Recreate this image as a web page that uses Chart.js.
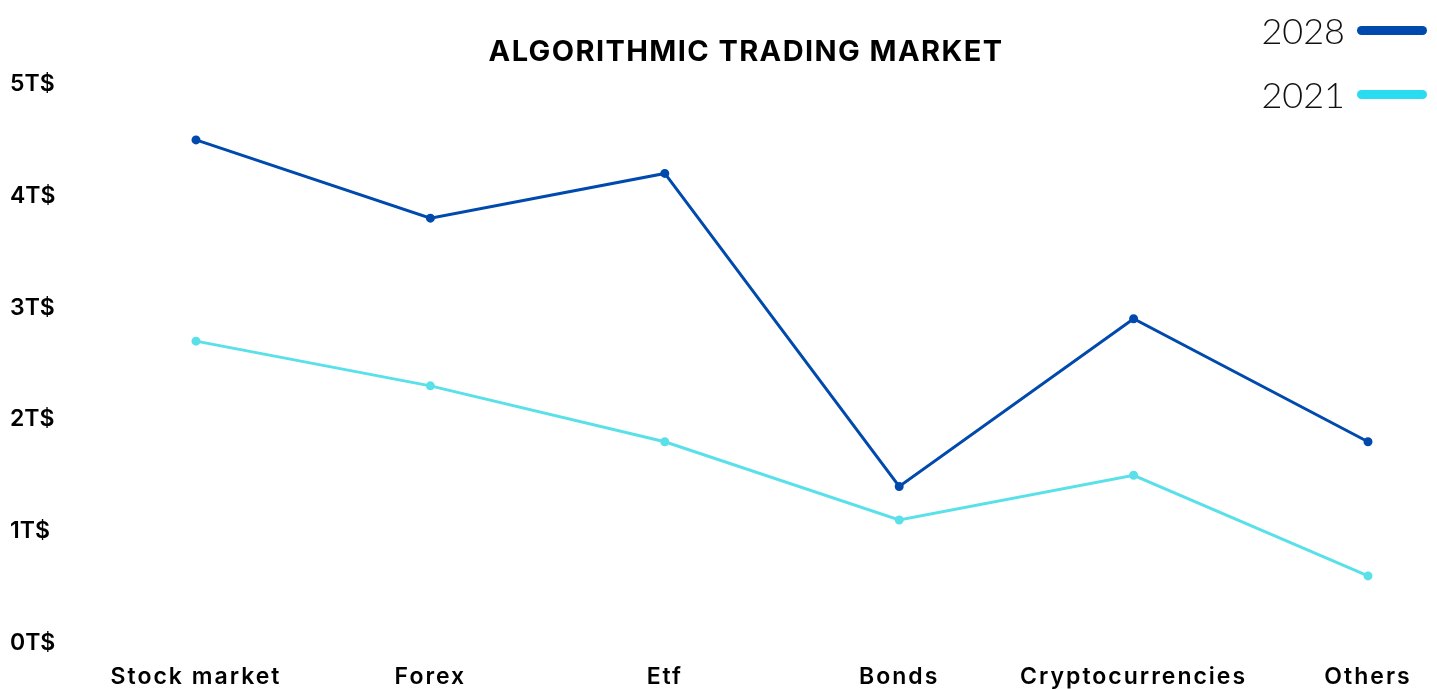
<!DOCTYPE html>
<html>
<head>
<meta charset="utf-8">
<script src="https://cdn.jsdelivr.net/npm/chart.js@4.4.1/dist/chart.umd.min.js"></script>
<style>
  html, body { margin:0; padding:0; background:#fff; }
  .wrap { position:relative; width:1437px; height:689px; overflow:hidden; }
  .title { position:absolute; left:746px; top:50px; transform:translate(-50%,-50%);
           font:700 29px Inter, sans-serif; color:#000; white-space:nowrap; letter-spacing:1.4px; }
  .leg-row { position:absolute; right:10px; display:flex; align-items:center; height:40px; transform:translateY(-50%); }
  .leg-row span.txt { font:300 36px Lato, sans-serif; color:#111; margin-right:12px; }
  .leg-row span.bar { display:inline-block; width:70px; height:9px; border-radius:5px; }
  canvas { position:absolute; left:0; top:0; }
</style>
</head>
<body>
<div class="wrap">
  <canvas id="chart" width="1437" height="689"></canvas>
  <div class="title" id="title"></div>
  <div id="legend"></div>
</div>
<script>
// ---- dados ----
const TITLE = 'ALGORITHMIC TRADING MARKET';
const categorias = ['Stock market', 'Forex', 'Etf', 'Bonds', 'Cryptocurrencies', 'Others'];
const serie2028 = [4.5, 3.8, 4.2, 1.4, 2.9, 1.8];
const serie2021 = [2.7, 2.3, 1.8, 1.1, 1.5, 0.6];
const yTicks = [0, 1, 2, 3, 4, 5];

const series = [
  { label:'2028', data: serie2028, line:'#0049ad', legend:'#0049ad' },
  { label:'2021', data: serie2021, line:'#5ae0e8', legend:'#2adcf2' }
];

document.getElementById('title').textContent = TITLE;

// legenda em HTML (texto + barrinha à direita)
const leg = document.getElementById('legend');
series.forEach((s, i) => {
  const row = document.createElement('div');
  row.className = 'leg-row';
  row.style.top = (30 + i * 64) + 'px';
  row.innerHTML = `<span class="txt">${s.label}</span><span class="bar" style="background:${s.legend}"></span>`;
  leg.appendChild(row);
});

const tickFont = { family:'Inter, sans-serif', size:23, weight:'600' };

// espaçamento entre letras só nos rótulos do eixo X (ticks do Y ficam em z:1, depois das linhas)
const letterSpacingX = {
  id:'letterSpacingX',
  beforeDraw(chart){ chart.ctx.letterSpacing = '2px'; },
  beforeDatasetsDraw(chart){ chart.ctx.letterSpacing = '0px'; }
};

new Chart(document.getElementById('chart'), {
  type:'line',
  data:{
    labels: categorias,
    datasets: series.map(s => ({
      label: s.label, data: s.data,
      borderColor: s.line, backgroundColor: s.line,
      borderWidth: 3, pointRadius: 3, pointHoverRadius: 4,
      tension: 0, fill: false
    }))
  },
  plugins:[letterSpacingX],
  options:{
    responsive:false, animation:false,
    layout:{ padding:{ left:10, right:69, top:84, bottom:0 } },
    plugins:{ legend:{ display:false }, title:{ display:false }, tooltip:{ enabled:false } },
    scales:{
      x:{
        offset:false,
        grid:{ display:false, drawTicks:false }, border:{ display:false },
        ticks:{ color:'#000', font:tickFont, padding:20, maxRotation:0, autoSkip:false },
        afterFit: sc => { sc.height = 46; }
      },
      y:{
        min:0, max:5,
        grid:{ display:false, drawTicks:false }, border:{ display:false },
        afterBuildTicks: sc => { sc.ticks = yTicks.map(v => ({ value:v })); },
        ticks:{ z:1, color:'#000', font:tickFont, crossAlign:'far', padding:0,
                callback: v => v + 'T$' },
        afterFit: sc => { sc.width = 186; }
      }
    }
  }
});
</script>
</body>
</html>
